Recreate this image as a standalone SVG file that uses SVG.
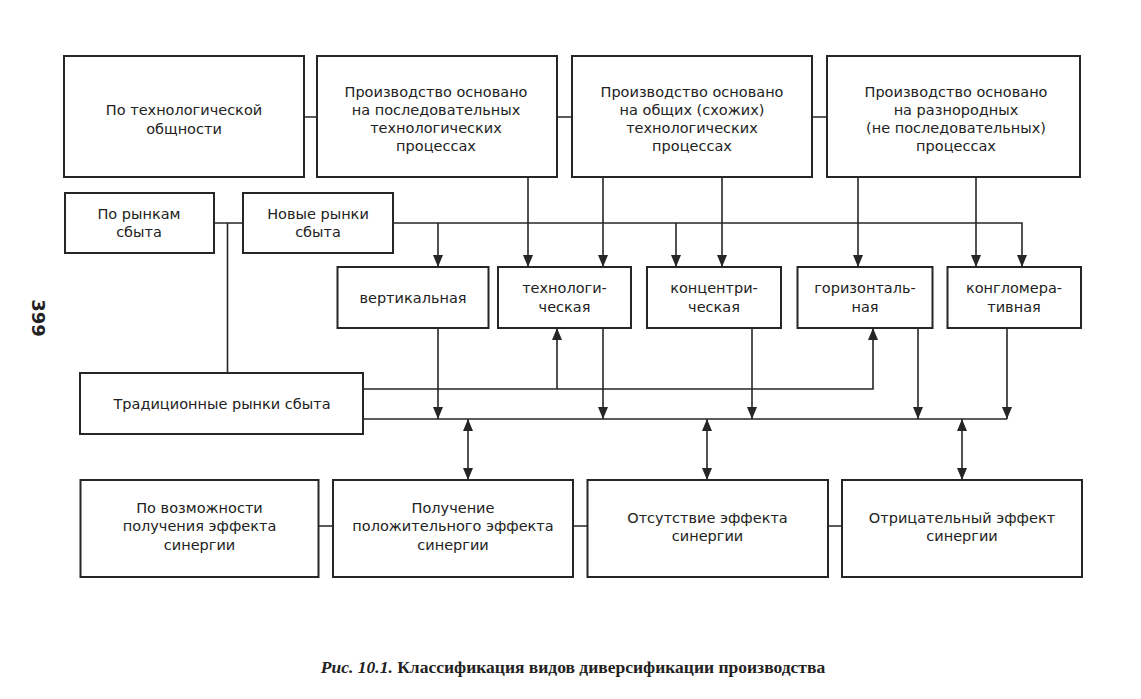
<svg xmlns="http://www.w3.org/2000/svg" width="1141" height="699" viewBox="0 0 1141 699">
<style>
.box{fill:#fff;stroke:#262626;stroke-width:2}
.t{font-family:"DejaVu Sans","Verdana",sans-serif;font-size:14.5px;fill:#222;text-anchor:middle}
.c{fill:none;stroke:#262626;stroke-width:1.6}
.a{marker-end:url(#ah)}
.d{marker-start:url(#ah);marker-end:url(#ah)}
.cap{font-family:"Liberation Serif","Times New Roman",serif;font-size:17.5px;font-weight:bold;fill:#222;text-anchor:middle}
</style>
<defs>
<marker id="ah" markerUnits="userSpaceOnUse" markerWidth="12" markerHeight="10" refX="12" refY="5" orient="auto-start-reverse" viewBox="0 0 12 10">
<path d="M0,0 L12,5 L0,10 z" fill="#262626"/>
</marker>
</defs>
<rect width="1141" height="699" fill="#fff"/>

<g id="connectors">
<path class="c" d="M304,117 H317 M557,117 H572 M812,117 H827"/>
<path class="c a" d="M528,177 V267"/>
<path class="c a" d="M603,177 V267"/>
<path class="c a" d="M722,177 V267"/>
<path class="c a" d="M858,177 V267"/>
<path class="c a" d="M976,177 V267"/>
<path class="c" d="M214,223 H243 M227.5,223 V373"/>
<path class="c a" d="M393,223 H1022 V267"/>
<path class="c a" d="M438,223 V267"/>
<path class="c a" d="M676,223 V267"/>
<path class="c a" d="M438,328 V419"/>
<path class="c a" d="M603,328 V419"/>
<path class="c a" d="M752,328 V419"/>
<path class="c a" d="M918,328 V419"/>
<path class="c a" d="M1007,328 V419"/>
<path class="c" d="M363,419 H1007"/>
<path class="c a" d="M363,389 H873 V328"/>
<path class="c a" d="M557,389 V328"/>
<path class="c d" d="M468,419 V480"/>
<path class="c d" d="M707,419 V480"/>
<path class="c d" d="M962,419 V480"/>
<path class="c" d="M318,526 H333 M573,526 H587 M828,526 H842"/>
</g>

<g id="n-tech"><rect class="box" x="64" y="56" width="240" height="121"/>
<text class="t" x="184" y="115">По технологической</text><text class="t" x="184" y="134">общности</text></g>
<g id="n-seq"><rect class="box" x="317" y="56" width="240" height="121"/>
<text class="t" x="436" y="97">Производство основано</text><text class="t" x="436" y="115">на последовательных</text><text class="t" x="436" y="133">технологических</text><text class="t" x="436" y="151">процессах</text></g>
<g id="n-common"><rect class="box" x="572" y="56" width="240" height="121"/>
<text class="t" x="692" y="97">Производство основано</text><text class="t" x="692" y="115">на общих (схожих)</text><text class="t" x="692" y="133">технологических</text><text class="t" x="692" y="151">процессах</text></g>
<g id="n-diverse"><rect class="box" x="827" y="56" width="253" height="121"/>
<text class="t" x="956" y="97">Производство основано</text><text class="t" x="956" y="115">на разнородных</text><text class="t" x="956" y="133">(не последовательных)</text><text class="t" x="956" y="151">процессах</text></g>

<g id="n-markets"><rect class="box" x="65" y="193" width="149" height="60"/>
<text class="t" x="139" y="219">По рынкам</text><text class="t" x="139" y="237">сбыта</text></g>
<g id="n-new"><rect class="box" x="243" y="193" width="150" height="60"/>
<text class="t" x="318" y="219">Новые рынки</text><text class="t" x="318" y="237">сбыта</text></g>

<g id="n-vert"><rect class="box" x="337.5" y="267" width="151" height="61"/>
<text class="t" x="413" y="302.5">вертикальная</text></g>
<g id="n-techn"><rect class="box" x="498" y="267" width="133" height="61"/>
<text class="t" x="564.5" y="293">технологи-</text><text class="t" x="564.5" y="312">ческая</text></g>
<g id="n-conc"><rect class="box" x="647" y="267" width="134" height="61"/>
<text class="t" x="714" y="293">концентри-</text><text class="t" x="714" y="312">ческая</text></g>
<g id="n-hor"><rect class="box" x="797.5" y="267" width="135" height="61"/>
<text class="t" x="865" y="293">горизонталь-</text><text class="t" x="865" y="312">ная</text></g>
<g id="n-cong"><rect class="box" x="947.5" y="267" width="133.5" height="61"/>
<text class="t" x="1014" y="293">конгломера-</text><text class="t" x="1014" y="312">тивная</text></g>

<g id="n-trad"><rect class="box" x="80" y="373" width="283" height="61"/>
<text class="t" x="222" y="409">Традиционные рынки сбыта</text></g>

<g id="n-syn"><rect class="box" x="80.5" y="480" width="238" height="97"/>
<text class="t" x="199.5" y="512.5">По возможности</text><text class="t" x="199.5" y="531">получения эффекта</text><text class="t" x="199.5" y="549.5">синергии</text></g>
<g id="n-pos"><rect class="box" x="333" y="480" width="240" height="97"/>
<text class="t" x="453" y="512.5">Получение</text><text class="t" x="453" y="531">положительного эффекта</text><text class="t" x="453" y="549.5">синергии</text></g>
<g id="n-none"><rect class="box" x="587.5" y="480" width="240.5" height="97"/>
<text class="t" x="707.5" y="522.5">Отсутствие эффекта</text><text class="t" x="707.5" y="540.5">синергии</text></g>
<g id="n-neg"><rect class="box" x="842" y="480" width="240" height="97"/>
<text class="t" x="962" y="522.5">Отрицательный эффект</text><text class="t" x="962" y="540.5">синергии</text></g>

<text class="cap" x="573" y="673"><tspan font-style="italic">Рис. 10.1.</tspan> Классификация видов диверсификации производства</text>
<text font-family="DejaVu Sans, sans-serif" font-size="18" font-weight="bold" fill="#222" text-anchor="middle" transform="translate(32,318) rotate(90)">399</text>
</svg>
